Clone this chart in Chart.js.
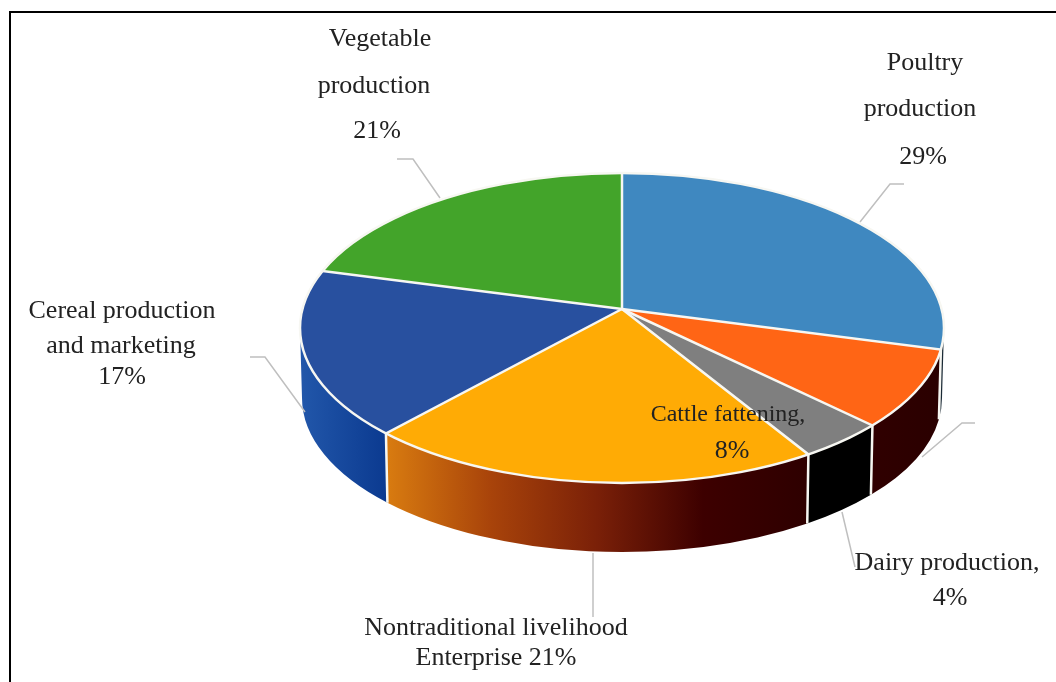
<!DOCTYPE html>
<html>
<head>
<meta charset="utf-8">
<title>Livelihood enterprises</title>
<script src="https://cdn.jsdelivr.net/npm/chart.js@4/dist/chart.umd.min.js"></script>
<style>
  html, body { margin: 0; padding: 0; background: #fff; }
  #wrap { position: relative; width: 1056px; height: 682px; overflow: hidden; }
  #frame { position: absolute; left: 9px; top: 11px; width: 1060px; height: 700px; border: 2px solid #000; }
  canvas { position: absolute; left: 0; top: 0; filter: blur(0.4px); }
</style>
</head>
<body>
<div id="wrap">
  <div id="frame"></div>
  <canvas id="pie" width="1056" height="682"></canvas>
</div>
<script>
const categories = ['Poultry production', 'Cattle fattening', 'Dairy production',
  'Nontraditional livelihood Enterprise', 'Cereal production and marketing', 'Vegetable production'];
const shares = [29, 8, 4, 21, 17, 21];
const topColors = ['#3f88c0', '#ff6515', '#7f7f7f', '#ffab05', '#28509f', '#43a42a'];

// side wall colours, left to right across each slice
const wallColors = [
  ['#1b2a36', '#1b2a36'],
  ['#300000', '#2a0000'],
  ['#000000', '#000000'],
  ['#d97c10', '#a8430a', '#7a2008', '#3d0000', '#2e0000'],
  ['#2257aa', '#0b3a90'],
  ['#2f7a1c', '#2f7a1c']
];

// printed labels with their own leader lines; 4th item overrides the font size
const labelFontSize = 26;
const labelBlocks = [
  { lines: [['Poultry', 925, 70], ['production', 920, 116], ['29%', 923, 164]],
    leader: [[860, 222], [890, 184], [904, 184]] },
  { lines: [['Cattle fattening,', 728, 421, 24], ['8%', 732, 458]],
    leader: [[922, 457], [962, 423], [975, 423]] },
  { lines: [['Dairy production,', 947, 570], ['4%', 950, 605]],
    leader: [[842, 512], [855, 567]] },
  { lines: [['Nontraditional livelihood', 496, 635], ['Enterprise 21%', 496, 665]],
    leader: [[593, 553], [593, 617]] },
  { lines: [['Cereal production', 122, 318], ['and marketing', 121, 353], ['17%', 122, 384]],
    leader: [[250, 357], [265, 357], [305, 412]] },
  { lines: [['Vegetable', 380, 46], ['production', 374, 93], ['21%', 377, 138]],
    leader: [[397, 159], [413, 159], [440, 198]] }
];

// the wedges meet off the rim's centre, like the perspective in the original
const apex = { x: 622, y: 309 };
const rim = { x: 622, y: 328, rx: 322, ry: 155 };
const base = { x: 622, y: 398, rx: 320, ry: 154 };
const tilt = 0.495;
const wedgeReach = 420;

// where a slice edge leaving the apex hits the rim
function rimHit(angle) {
  const dx = Math.cos(angle), dy = tilt * Math.sin(angle);
  const ox = (apex.x - rim.x) / rim.rx, oy = (apex.y - rim.y) / rim.ry;
  const vx = dx / rim.rx, vy = dy / rim.ry;
  const a = vx * vx + vy * vy, b = 2 * (ox * vx + oy * vy), c = ox * ox + oy * oy - 1;
  const u = (-b + Math.sqrt(b * b - 4 * a * c)) / (2 * a);
  const px = apex.x + u * dx, py = apex.y + u * dy;
  let t = Math.atan2((py - rim.y) / rim.ry, (px - rim.x) / rim.rx);
  if (t < -Math.PI / 2) t += Math.PI * 2;
  return { x: px, y: py, t };
}

function drawWalls(ctx, arcs) {
  arcs.forEach((arc, i) => {
    const lo = Math.max(rimHit(arc.startAngle).t, 0);
    const hi = Math.min(rimHit(arc.endAngle).t, Math.PI);
    if (hi <= lo) return;
    const x0 = rim.x + rim.rx * Math.cos(hi), x1 = rim.x + rim.rx * Math.cos(lo);
    const grad = ctx.createLinearGradient(x0, 0, x1, 0);
    wallColors[i].forEach((c, n) => grad.addColorStop(n / (wallColors[i].length - 1), c));
    ctx.beginPath();
    ctx.ellipse(rim.x, rim.y, rim.rx, rim.ry, 0, lo, hi, false);
    ctx.ellipse(base.x, base.y, base.rx, base.ry, 0, hi, lo, true);
    ctx.closePath();
    ctx.fillStyle = grad;
    ctx.fill();
  });
}

function drawEdges(ctx, arcs) {
  ctx.strokeStyle = '#f7f7f2';
  ctx.lineWidth = 2.5;
  arcs.forEach(arc => {
    const hit = rimHit(arc.startAngle);
    ctx.beginPath();
    ctx.moveTo(apex.x, apex.y);
    ctx.lineTo(hit.x, hit.y);
    // seam down the wall
    if (hit.t > 0 && hit.t < Math.PI) {
      ctx.lineTo(base.x + base.rx * Math.cos(hit.t), base.y + base.ry * Math.sin(hit.t));
    }
    ctx.stroke();
  });
  ctx.beginPath();
  ctx.ellipse(rim.x, rim.y, rim.rx, rim.ry, 0, 0, Math.PI * 2);
  ctx.stroke();
}

function drawLabels(ctx) {
  ctx.strokeStyle = '#bfbfbf';
  ctx.lineWidth = 1.5;
  labelBlocks.forEach(block => {
    ctx.beginPath();
    block.leader.forEach((p, n) => n ? ctx.lineTo(p[0], p[1]) : ctx.moveTo(p[0], p[1]));
    ctx.stroke();
  });
  ctx.fillStyle = '#222';
  ctx.textAlign = 'center';
  ctx.textBaseline = 'alphabetic';
  labelBlocks.forEach(block => block.lines.forEach(l => {
    ctx.font = (l[3] || labelFontSize) + 'px "Liberation Serif"';
    ctx.fillText(l[0], l[1], l[2]);
  }));
}

const tiltedPie = {
  id: 'tiltedPie',
  beforeDatasetsDraw(chart) {
    const ctx = chart.ctx;
    const arcs = chart.getDatasetMeta(0).data;
    drawWalls(ctx, arcs);
    const s = wedgeReach / arcs[0].outerRadius;
    ctx.save();
    ctx.beginPath();
    ctx.ellipse(rim.x, rim.y, rim.rx, rim.ry, 0, 0, Math.PI * 2);
    ctx.clip();
    ctx.translate(apex.x, apex.y);
    ctx.scale(s, s * tilt);
    ctx.translate(-arcs[0].x, -arcs[0].y);
  },
  afterDatasetsDraw(chart) {
    const ctx = chart.ctx;
    ctx.restore();
    drawEdges(ctx, chart.getDatasetMeta(0).data);
    drawLabels(ctx);
  }
};

new Chart(document.getElementById('pie'), {
  type: 'pie',
  data: {
    labels: categories,
    datasets: [{
      data: shares,
      backgroundColor: topColors,
      borderWidth: 0
    }]
  },
  options: {
    responsive: false,
    animation: false,
    events: [],
    layout: { padding: 0 },
    plugins: {
      legend: { display: false },
      tooltip: { enabled: false },
      title: { display: false }
    }
  },
  plugins: [tiltedPie]
});
</script>
</body>
</html>
